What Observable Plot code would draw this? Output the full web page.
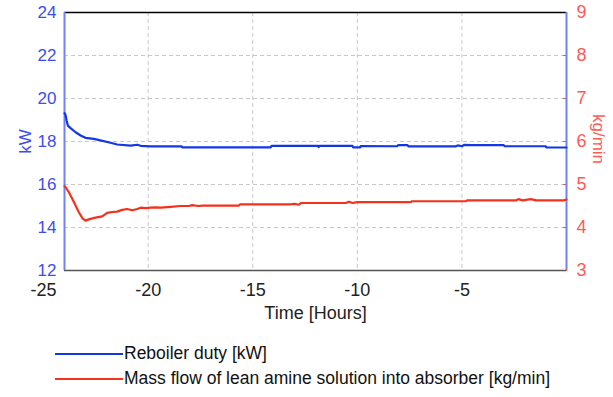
<!DOCTYPE html>
<html>
<head>
<meta charset="utf-8">
<script src="https://cdn.jsdelivr.net/npm/d3@7"></script>
<script src="https://cdn.jsdelivr.net/npm/@observablehq/plot@0.6"></script>
<style>
  body { margin: 0; background: #fff; font-family: "Liberation Sans", Arial, sans-serif; }
  #chart svg { display: block; }
  .legend { padding-top: 11px; }
  .row { display: flex; align-items: center; height: 25px; font-size: 17.5px; color: #111; }
  .swatch { width: 68px; height: 2px; margin-left: 55px; margin-right: 1px; }
</style>
</head>
<body>
<div id="chart"></div>
<div class="legend" id="legend"></div>
<script>
// Time axis (hours)
const xTicks = [-25, -20, -15, -10, -5];
const kwTicks = [12, 14, 16, 18, 20, 22, 24];
const flowTicks = [3, 4, 5, 6, 7, 8, 9];

// Series 1: Reboiler duty [kW]
const dutyHours = [-24.0, -23.95, -23.9, -23.84, -23.71, -23.47, -23.23, -23.0, -22.6, -22.28, -21.8, -21.48, -20.84, -20.52, -20.36, -19.89, -19.4, -18.4, -18.37, -14.14, -14.1, -11.87, -11.85, -11.8, -10.23, -10.2, -9.86, -9.84, -8.1, -8.05, -7.6, -7.55, -5.3, -5.2, -5.0, -4.9, -4.57, -3.0, -2.95, -1.0, -0.95, 0];
const dutyValues = [19.32, 19.24, 18.98, 18.74, 18.62, 18.43, 18.28, 18.17, 18.12, 18.05, 17.94, 17.86, 17.81, 17.85, 17.80, 17.77, 17.78, 17.77, 17.73, 17.73, 17.80, 17.80, 17.74, 17.80, 17.80, 17.73, 17.73, 17.79, 17.78, 17.83, 17.83, 17.77, 17.77, 17.82, 17.78, 17.84, 17.83, 17.83, 17.78, 17.78, 17.72, 17.72];

// Series 2: Mass flow of lean amine solution into absorber [kg/min]
const flowHours = [-24.0, -23.95, -23.79, -23.63, -23.47, -23.32, -23.15, -23.0, -22.76, -22.52, -22.2, -21.96, -21.72, -21.48, -21.24, -21.0, -20.76, -20.52, -20.36, -20.12, -19.89, -19.65, -19.41, -18.93, -18.45, -18.05, -17.9, -17.6, -17.41, -15.66, -15.6, -13.19, -13.0, -12.79, -12.7, -10.56, -10.4, -10.23, -10.0, -7.44, -7.4, -4.81, -4.75, -2.42, -2.3, -2.1, -1.7, -1.46, -0.12, 0];
const flowValues = [4.96, 4.94, 4.82, 4.67, 4.51, 4.36, 4.22, 4.16, 4.20, 4.23, 4.26, 4.34, 4.36, 4.37, 4.41, 4.43, 4.40, 4.43, 4.46, 4.45, 4.46, 4.47, 4.46, 4.48, 4.50, 4.50, 4.52, 4.50, 4.51, 4.51, 4.54, 4.54, 4.55, 4.53, 4.57, 4.57, 4.60, 4.57, 4.59, 4.59, 4.61, 4.61, 4.63, 4.63, 4.66, 4.63, 4.66, 4.63, 4.63, 4.65];

const seriesNames = ["Reboiler duty [kW]", "Mass flow of lean amine solution into absorber [kg/min]"];
const blue = "#1237e6", red = "#f5301c";

const duty = dutyHours.map((h, i) => ({h, v: dutyValues[i]}));
const flow = flowHours.map((h, i) => ({h, v: flowValues[i]}));
// map kg/min (3..9) onto kW scale (12..24)
const toKw = m => 2 * m + 6;
const toFlow = k => (k - 6) / 2;

const plot = Plot.plot({
  width: 613,
  height: 330,
  marginLeft: 64,
  marginRight: 47,
  marginTop: 12,
  marginBottom: 60,
  style: {fontFamily: "Liberation Sans, Arial, sans-serif", fontSize: "16px", background: "#fff", overflow: "visible"},
  x: {domain: [-24, 0]},
  y: {domain: [12, 24]},
  marks: [
    Plot.gridX(xTicks.slice(1), {stroke: "#c8c8c8", strokeOpacity: 1, strokeDasharray: "4,3"}),
    Plot.gridY(kwTicks.slice(1, -1), {stroke: "#c8c8c8", strokeOpacity: 1, strokeDasharray: "4,3"}),
    Plot.axisX({ticks: xTicks, tickFormat: d => String(d), tickSize: 0, tickPadding: 13,
      fontSize: 18, fill: "#222", label: "Time [Hours]", labelAnchor: "center", labelOffset: 48, labelArrow: "none"}),
    Plot.axisY({ticks: kwTicks, tickSize: 0, tickPadding: 8, fontSize: 17, fill: "#3b4ef0",
      label: "kW", labelAnchor: "center", labelOffset: 46, labelArrow: "none"}),
    Plot.axisY({anchor: "right", ticks: flowTicks.map(toKw), tickFormat: toFlow, tickSize: -4, tickPadding: 14,
      stroke: "#ff4a40", fontSize: 18, fill: "#ff5a55", label: null}),
    Plot.ruleY([24], {stroke: "#000", strokeWidth: 1.5}),
    Plot.ruleY([12], {stroke: "#555", strokeWidth: 1.5}),
    Plot.ruleX([-24], {stroke: "#6f84f2", strokeWidth: 2}),
    Plot.ruleX([0], {stroke: "#6f84f2", strokeWidth: 2}),
    Plot.lineY(duty, {x: "h", y: "v", stroke: blue, strokeWidth: 2.2}),
    Plot.lineY(flow, {x: "h", y: d => toKw(d.v), stroke: red, strokeWidth: 2.2})
  ]
});
document.getElementById("chart").appendChild(plot);

// right-axis title (rotated clockwise)
const svg = d3.select(plot);
svg.append("text")
  .attr("transform", "translate(597,139) rotate(90)")
  .attr("text-anchor", "middle")
  .attr("dominant-baseline", "middle")
  .attr("fill", "#ff5a55")
  .attr("font-size", 17)
  .text("kg/min");
svg.selectAll("[aria-label='y-axis label'] text").attr("fill", "#3b4ef0");

const legend = document.getElementById("legend");
[[seriesNames[0], blue], [seriesNames[1], red]].forEach(([name, c]) => {
  const row = document.createElement("div");
  row.className = "row";
  row.innerHTML = `<span class="swatch" style="background:${c}"></span><span>${name}</span>`;
  legend.appendChild(row);
});
</script>
</body>
</html>
